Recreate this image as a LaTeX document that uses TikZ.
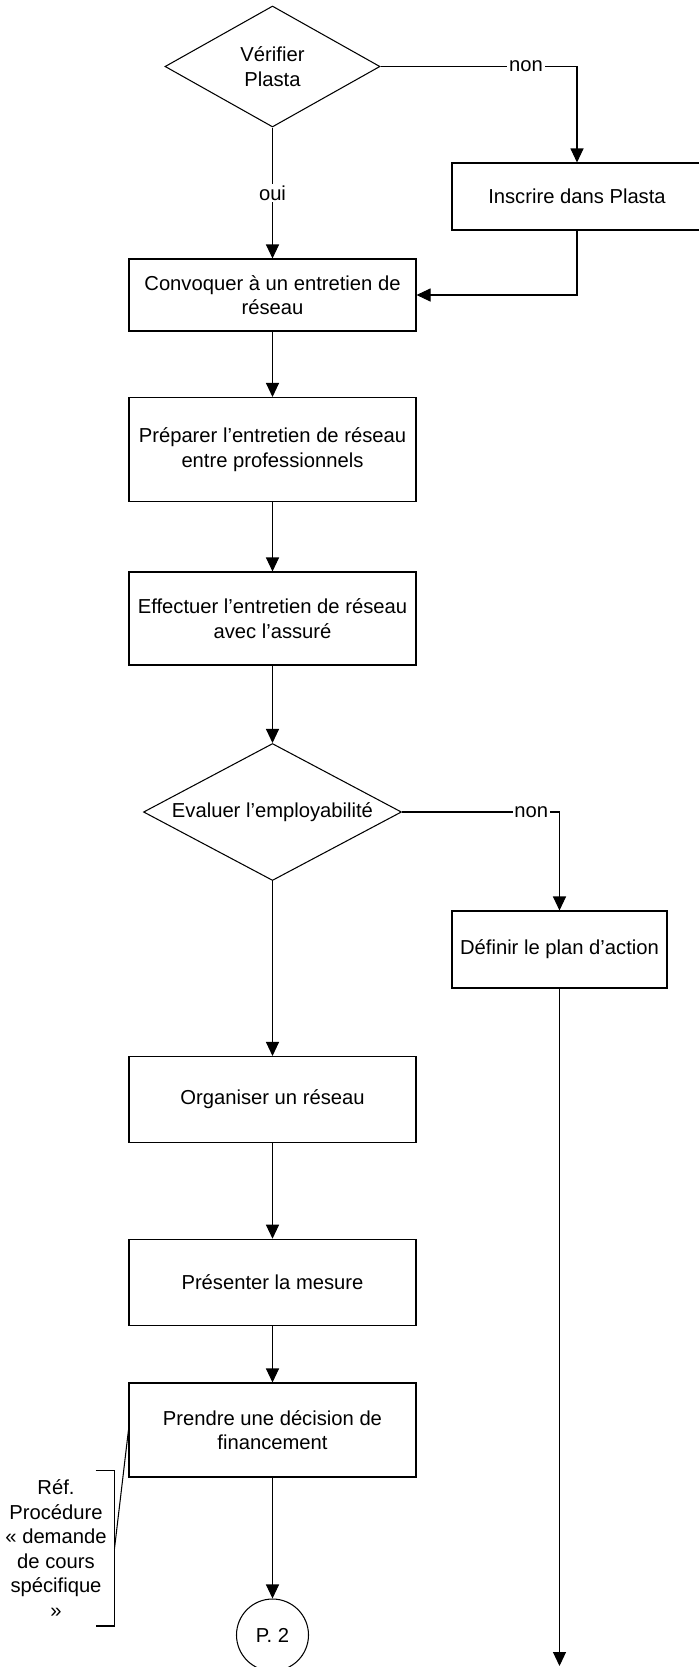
\documentclass[tikz,border=0pt]{standalone}
\usepackage{fontspec}
\setmainfont{Liberation Sans}
\usetikzlibrary{shapes.geometric,arrows.meta}

\begin{document}
\begin{tikzpicture}[
  font=\fontsize{11.5}{14}\selectfont,
  line width=0.6pt,
  box/.style={rectangle, draw, align=center, minimum width=5.74cm},
  decision/.style={diamond, draw, align=center, inner sep=0pt},
  answer/.style={fill=white, inner sep=1pt},
  connect/.style={-{Triangle[length=0.28cm,width=0.26cm]}}
]
\useasboundingbox (0,0) rectangle (13.96,-33.34);
\node at (5.45,-1.33) [decision, aspect=1.78, minimum width=4.3cm, minimum height=2.42cm] (verifier) {Vérifier\\Plasta};
\node at (11.54,-3.93) [box, minimum width=5cm, minimum height=1.34cm] (inscrire) {Inscrire dans Plasta};
\node at (5.45,-5.90) [box, minimum height=1.44cm] (convoquer) {Convoquer à un entretien de\\réseau};
\node at (5.45,-8.99) [box, minimum height=2.08cm] (preparer) {Préparer l’entretien de réseau\\entre professionnels};
\node at (5.45,-12.37) [box, minimum height=1.86cm] (effectuer) {Effectuer l’entretien de réseau\\avec l’assuré};
\node at (5.45,-16.24) [decision, aspect=1.9, minimum width=5.16cm, minimum height=2.74cm] (evaluer) {Evaluer l’employabilité};
\node at (11.19,-18.99) [box, minimum width=4.3cm, minimum height=1.54cm] (definir) {Définir le plan d’action};
\node at (5.45,-21.99) [box, minimum height=1.72cm] (organiser) {Organiser un réseau};
\node at (5.45,-25.65) [box, minimum height=1.73cm] (presenter) {Présenter la mesure};
\node at (5.45,-28.60) [box, minimum height=1.88cm] (prendre) {Prendre une décision de\\financement};
\node at (5.45,-32.70) [circle, draw, minimum size=1.44cm, inner sep=0pt] (page2) {P. 2};
\node at (1.12,-30.97) [align=center] (reference) {Réf.\\Procédure\\« demande\\de cours\\spécifique\\»};
\coordinate (fin) at (11.19,-33.32);
\coordinate (bracket) at (2.29,-30.97);
% branches
\draw (verifier.south)[connect] -- node[answer]{oui} (convoquer.north);
\draw (verifier.east)[connect] -| node[answer, pos=0.37]{non} (inscrire.north);
\draw (inscrire.south)[connect] |- (convoquer.east);
\draw (convoquer)[connect] -- (preparer);
\draw (preparer)[connect] -- (effectuer);
\draw (effectuer)[connect] -- (evaluer);
\draw (evaluer.east)[connect] -| node[answer, pos=0.41]{non} (definir.north);
\draw (definir.south)[connect] -- (fin);
\draw (evaluer)[connect] -- (organiser);
\draw (organiser)[connect] -- (presenter);
\draw (presenter)[connect] -- (prendre);
\draw (prendre)[connect] -- (page2);
% annotation
\draw (1.91,-29.41) -| (2.29,-32.52) -- (1.91,-32.52);
\draw (bracket) -- (prendre.west);
\end{tikzpicture}
\end{document}
